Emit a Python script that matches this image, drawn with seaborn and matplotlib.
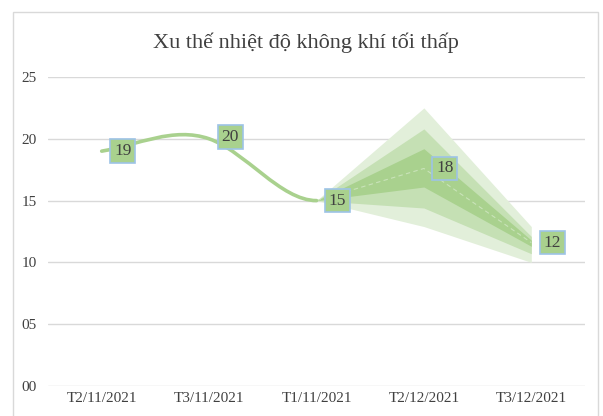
import matplotlib
matplotlib.use("Agg")
import matplotlib.pyplot as plt
import seaborn as sns
import pandas as pd
from matplotlib.path import Path
from matplotlib.patches import PathPatch, Rectangle

# data
categories = ["T2/11/2021", "T3/11/2021", "T1/11/2021", "T2/12/2021", "T3/12/2021"]
observed = [19, 20, 15]
forecast = [15, 17.6, 11.6]
upper_outer = [15, 22.5, 12.9]
upper_mid = [15, 20.8, 12.1]
upper_inner = [15, 19.2, 11.8]
lower_inner = [15, 16.1, 11.3]
lower_mid = [15, 14.4, 10.7]
lower_outer = [15, 12.9, 10.0]
yticks = [0, 5, 10, 15, 20, 25]

GREEN = "#a9d18e"
TEXT = "#404040"

sns.set_theme(style="white")
plt.rcParams["font.family"] = ["Liberation Serif", "DejaVu Serif"]

fig = plt.figure(figsize=(6.03, 4.16), dpi=100)
ax = fig.add_axes([48 / 603, 30 / 416, 537 / 603, 309 / 416])

x_obs = list(range(len(observed)))
x_fc = list(range(len(observed) - 1, len(categories)))

# fan bands, light to dark
ax.fill_between(x_fc, lower_outer, upper_outer, color="#e2efda", lw=0, zorder=1)
ax.fill_between(x_fc, lower_mid, upper_mid, color="#c5e0b4", lw=0, zorder=2)
ax.fill_between(x_fc, lower_inner, upper_inner, color=GREEN, lw=0, zorder=3)

fc_df = pd.DataFrame({"x": x_fc, "y": forecast})
sns.lineplot(data=fc_df, x="x", y="y", ax=ax, color="#c9e3b9", lw=0.8,
             linestyle=(0, (4, 3)), zorder=4)

# smoothed observed line (bezier through the points, flat at the end)
k = 1.5  # excel-like smoothing strength
n = len(observed)
tangents = []
for i in range(n):
    if i == 0:
        tangents.append((observed[1] - observed[0]) * k)
    elif i == n - 1:
        tangents.append(0)
    else:
        tangents.append((observed[i + 1] - observed[i - 1]) / 2 * k)
verts = [(x_obs[0], observed[0])]
codes = [Path.MOVETO]
for i in range(n - 1):
    verts += [(x_obs[i] + 1 / 3, observed[i] + tangents[i] / 3),
              (x_obs[i + 1] - 1 / 3, observed[i + 1] - tangents[i + 1] / 3),
              (x_obs[i + 1], observed[i + 1])]
    codes += [Path.CURVE4] * 3
ax.add_patch(PathPatch(Path(verts, codes), facecolor="none", edgecolor=GREEN,
                       lw=2.6, capstyle="round", zorder=5))

# data label boxes
box = dict(boxstyle="square,pad=0.22", facecolor=GREEN, edgecolor="#9dc3e6", lw=1.2)
labels_pts = list(zip(x_obs, observed)) + list(zip(x_fc[1:], forecast[1:]))
for xv, yv in labels_pts:
    ax.annotate(f"{yv:.0f}", (xv, yv), xytext=(21, 2 if yv == 20 else 0),
                textcoords="offset pixels", ha="center", va="center",
                fontsize=12.5, color=TEXT, bbox=box, zorder=6)

ax.set_xlim(-0.5, len(categories) - 0.5)
ax.set_ylim(0, 25)
ax.set_xticks(range(len(categories)))
ax.set_xticklabels(categories, fontsize=11, color=TEXT)
ax.set_yticks(yticks)
ax.set_yticklabels([f"{v:02d}" for v in yticks], fontsize=11, color=TEXT)
ax.tick_params(axis="y", length=0, pad=8)
ax.tick_params(axis="x", length=0, pad=4)
ax.grid(axis="y", color="#d9d9d9", lw=1)
ax.set_axisbelow(True)
for s in ax.spines.values():
    s.set_visible(False)
ax.set_xlabel("")
ax.set_ylabel("")

fig.text(0.508, 0.897, "Xu thế nhiệt độ không khí tối thấp", ha="center", va="center",
         fontsize=16, color=TEXT)

fig.patches.append(Rectangle((13 / 603, -0.02), 585 / 603, 1.02 - 12 / 416,
                             transform=fig.transFigure, facecolor="none",
                             edgecolor="#d9d9d9", lw=1))

fig.savefig("out.png", dpi=100)
